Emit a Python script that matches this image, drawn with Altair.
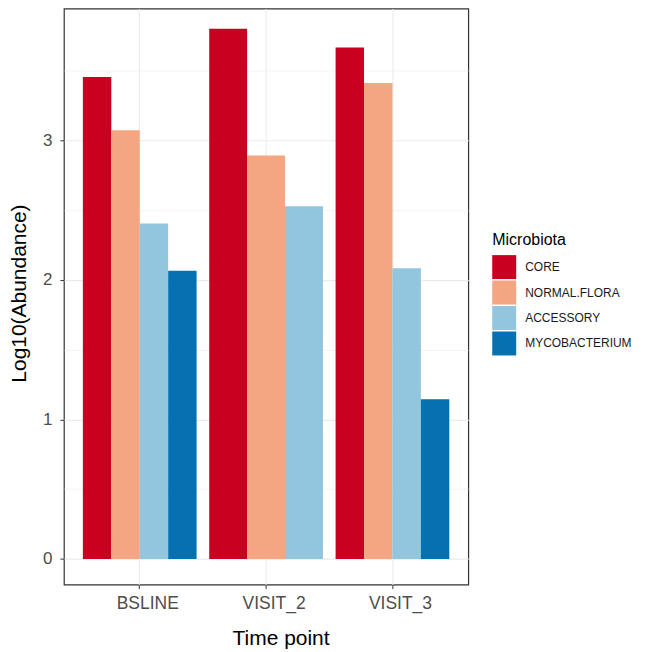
import altair as alt
import pandas as pd

time_points = ["BSLINE", "VISIT_2", "VISIT_3"]
groups = ["CORE", "NORMAL.FLORA", "ACCESSORY", "MYCOBACTERIUM"]
bsline_vals = [3.455, 3.073, 2.405, 2.066]
visit2_vals = [3.800, 2.892, 2.529, None]
visit3_vals = [3.667, 3.412, 2.083, 1.145]
palette = ["#CA0020", "#F4A582", "#92C5DE", "#0571B0"]

rows = []
for tp, vals in zip(time_points, [bsline_vals, visit2_vals, visit3_vals]):
    for g, v in zip(groups, vals):
        if v is not None:
            rows.append({"time": tp, "Microbiota": g, "value": v})
df = pd.DataFrame(rows)

FONT = "Liberation Sans"

x_enc = alt.X(
    "time:N",
    scale=alt.Scale(domain=time_points, paddingInner=0.1, paddingOuter=0.15),
    axis=alt.Axis(
        title="Time point",
        labelAngle=0,
        grid=True,
        gridColor="#EBEBEB",
        gridWidth=1.1,
        domain=False,
        tickColor="#333333",
        tickSize=4,
        labelColor="#4D4D4D",
        labelFontSize=17.5,
        labelPadding=6,
        labelOffset=8,
        titleFontSize=21,
        titleFontWeight="normal",
        titleColor="#000000",
        titleX=217,
        titleY=60,
        titleBaseline="alphabetic",
        titleAlign="center",
    ),
)

y_enc = alt.Y(
    "value:Q",
    scale=alt.Scale(domain=[-0.184, 3.946], nice=False, zero=False),
    axis=alt.Axis(
        title="Log10(Abundance)",
        values=[0, 0.5, 1, 1.5, 2, 2.5, 3, 3.5],
        labelExpr="datum.value % 1 === 0 ? format(datum.value, 'd') : ''",
        grid=True,
        gridColor="#EBEBEB",
        gridWidth={"condition": {"test": "datum.value % 1 !== 0", "value": 0.6}, "value": 1.1},
        tickOpacity={"condition": {"test": "datum.value % 1 !== 0", "value": 0}, "value": 1},
        domain=False,
        tickColor="#333333",
        tickSize=4,
        labelColor="#4D4D4D",
        labelFontSize=17,
        labelPadding=8,
        titleFontSize=21,
        titleFontWeight="normal",
        titleColor="#000000",
        titleX=-38,
        titleY=285,
        titleAngle=-90,
        titleBaseline="alphabetic",
        titleAlign="center",
    ),
)

color_enc = alt.Color(
    "Microbiota:N",
    scale=alt.Scale(domain=groups, range=palette),
    legend=alt.Legend(
        title="Microbiota",
        orient="none",
        legendX=429,
        legendY=224,
        padding=0,
        symbolType="square",
        symbolSize=576,
        symbolStrokeWidth=0,
        symbolOpacity=1,
        rowPadding=1.5,
        labelFontSize=12,
        labelColor="#1A1A1A",
        labelOffset=9,
        titleFontSize=16,
        titleFontWeight="normal",
        titleColor="#000000",
        titlePadding=7,
    ),
)

base = alt.Chart(df)

layer_main = base.transform_filter("datum.time !== 'VISIT_2'").mark_bar().encode(
    x=x_enc,
    xOffset=alt.XOffset("Microbiota:N", scale=alt.Scale(domain=groups)),
    y=y_enc,
    y2=alt.datum(0),
    color=color_enc,
)

layer_v2 = base.transform_filter("datum.time === 'VISIT_2'").mark_bar().encode(
    x=x_enc,
    xOffset=alt.XOffset("Microbiota:N", scale=alt.Scale(domain=groups[:3])),
    y=y_enc,
    y2=alt.datum(0),
    color=color_enc,
)

chart = (
    alt.layer(layer_main, layer_v2)
    .resolve_scale(xOffset="independent")
    .properties(
        width=405,
        height=577,
        autosize=alt.AutoSizeParams(type="none"),
        padding={"left": 56, "top": 0, "right": 170, "bottom": 64},
        background="white",
    )
    .configure(font=FONT)
    .configure_view(stroke="#333333", strokeWidth=1.2)
)

chart.save("out.html", embed_options={"renderer": "svg", "actions": False})
